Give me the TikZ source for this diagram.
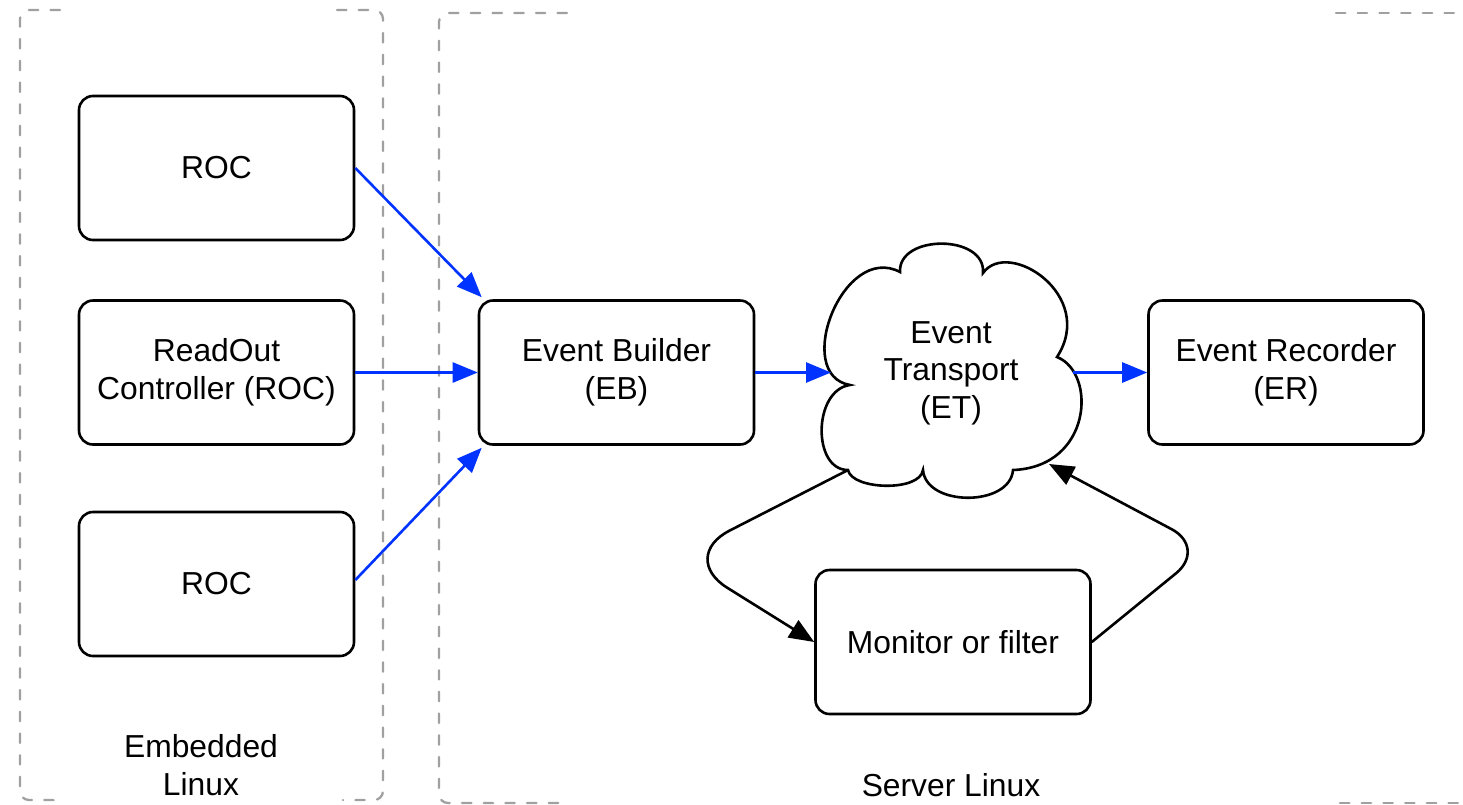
\documentclass[tikz,border=0pt]{standalone}
\usepackage{fontspec}
\setmainfont{Liberation Sans}
\usetikzlibrary{arrows.meta,calc}
\definecolor{flowblue}{RGB}{0,51,255}
\definecolor{zonegray}{RGB}{160,160,160}

\begin{document}
\begin{tikzpicture}[x=1pt,y=-1pt,
  every node/.style={font=\fontsize{31.8}{37.5}\selectfont, text=black},
  block/.style={draw=black, line width=2.6pt, rounded corners=14pt,
    minimum width=275pt, minimum height=144pt, inner sep=0pt, align=center, fill=white},
  label/.style={align=center, inner sep=0pt},
  link/.style={draw=flowblue, line width=2.6pt, -{Triangle[length=25pt,width=20pt]}},
  feedback/.style={draw=black, line width=2.6pt, -{Triangle[length=25pt,width=20pt]}},
  zone/.style={draw=zonegray, line width=2.3pt, line cap=round,
    dash pattern=on 9.4pt off 12.3pt, rounded corners=9pt},
  cloudline/.style={draw=black, line width=2.6pt, fill=white}
]
\useasboundingbox[fill=white] (0,0) rectangle (1463,804);

% deployment zones (dashed outlines)
\draw[zone] (60,10) -- (20,10) -- (20,800) -- (62,800);
\draw[zone] (337,10) -- (383,10) -- (383,800) -- (343,800);
\draw[zone] (567,13) -- (439,13) -- (439,803) -- (567,803);
\draw[zone] (1336,13) -- (1462,13);
\draw[zone] (1340,803) -- (1462,803);

% readout controllers
\node[block] (roc1) at (216.5,168) {ROC};
\node[block] (roc2) at (216.5,372.5) {ReadOut\\Controller (ROC)};
\node[block] (roc3) at (216.5,584) {ROC};

% event builder and recorder
\node[block] (eb) at (616.5,372.5) {Event Builder\\(EB)};
\node[block] (er) at (1286,372.5) {Event Recorder\\(ER)};
\node[block] (mon) at (953,642) {Monitor or filter};

% event transport cloud
\draw[cloudline] (900,272)
  .. controls (898,234) and (986,234) .. (983,273)
  .. controls (1008,238) and (1097,295) .. (1057,357)
  .. controls (1097,373) and (1092,467) .. (1013,470)
  .. controls (1010,507) and (926,507) .. (923,470)
  .. controls (920,492) and (852,490) .. (848,470)
  .. controls (812,470) and (813,390) .. (850,385)
  .. controls (792,375) and (843,242) .. (900,272) -- cycle;
\node[label] (et) at (951,373) {Event\\Transport\\(ET)};
\coordinate (etW) at (831,372.5);
\coordinate (etE) at (1073,372.5);
\coordinate (etSW) at (848,470);
\coordinate (etSE) at (1049,464);
\coordinate (bendL) at (678,557);
\coordinate (bendR) at (1207,548);

% zone captions
\node[label] (emb) at (201,765) {Embedded\\Linux};
\node[label] (srv) at (951,785) {Server Linux};

% data flow
\draw[link] (roc1.east) -- ([xshift=4pt,yshift=2pt]eb.north west);
\draw[link] (roc2.east) -- (eb.west);
\draw[link] ([yshift=4pt]roc3.east) -- ([xshift=4pt,yshift=-2pt]eb.south west);
\draw[link] (eb.east) -- (etW);
\draw[link] (etE) -- (er.west);

% monitoring loop
\draw[feedback, rounded corners=58pt] (etSW) -- (bendL) -- (mon.west);
\draw[feedback, rounded corners=40pt] (mon.east) -- (bendR) -- (etSE);
\end{tikzpicture}
\end{document}
